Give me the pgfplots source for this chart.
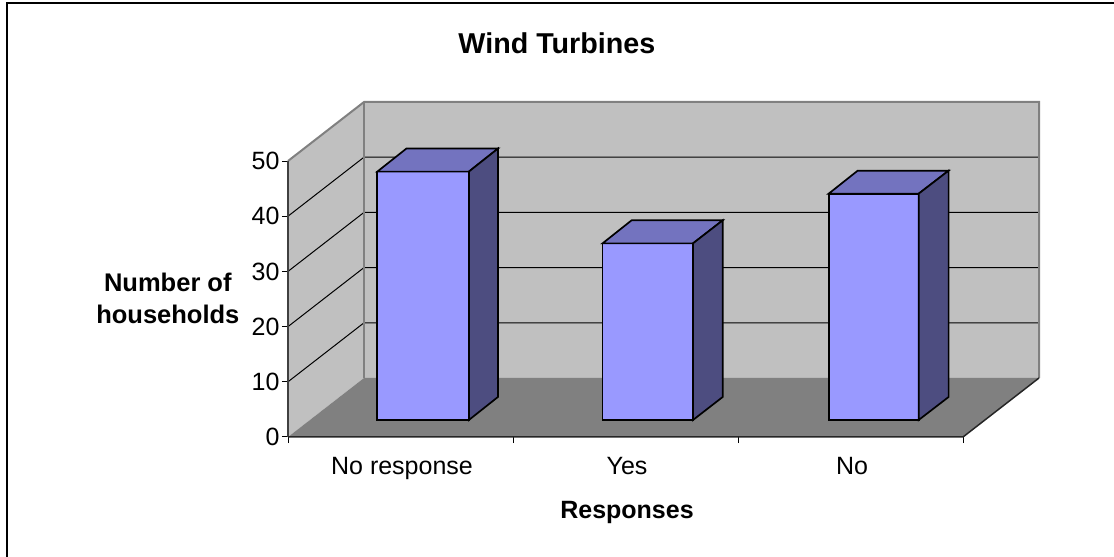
\documentclass[border=0pt]{standalone}
\usepackage{pgfplots}
\pgfplotsset{compat=1.18}
\usepackage{fontspec}
\setmainfont{Liberation Sans}
\definecolor{wall}{HTML}{C0C0C0}
\definecolor{floorc}{HTML}{808080}
\definecolor{barfront}{HTML}{9999FF}
\definecolor{bartop}{HTML}{7373BF}
\definecolor{barside}{HTML}{4D4D80}
\newcommand{\lab}{\fontsize{25}{32}\selectfont}
\begin{document}
\begin{tikzpicture}[x=1pt,y=1pt]
\path[use as bounding box] (0,0) rectangle (1114,557);
\draw[black,line width=2pt] (7,0) -- (7,554) -- (1114,554);
\begin{axis}[
    at={(288pt,120pt)}, anchor=south west,
    scale only axis, width=751pt, height=335pt,
    xmin=0, xmax=3.3378, ymin=0, ymax=60.69,
    axis lines=left, axis line style={draw=none, -},
    xtick={0,1,2,3}, xticklabels={},
    extra x ticks={0.5,1.5,2.5},
    extra x tick labels={No response,Yes,No},
    extra x tick style={major tick length=0pt},
    ytick={0,10,20,30,40,50},
    tick align=outside, major tick length=6pt,
    tick style={black, line width=1pt},
    /pgf/number format/assume math mode=true,
    tick label style={font=\lab},
    xticklabel style={yshift=-17pt, xshift=1.5pt},
    yticklabel style={xshift=1pt},
    clip=false,
    title={\bfseries Wind Turbines},
    title style={font=\fontsize{28.7}{34}\selectfont, at={(axis description cs:0.358,1.158)}, anchor=center},
    xlabel={\bfseries Responses},
    xlabel style={font=\lab, at={(axis description cs:0.4514,-0.224)}, anchor=center},
    ylabel={\bfseries Number of\\\bfseries households},
    ylabel style={font=\fontsize{25.5}{32}\selectfont, rotate=-90, align=center, at={(axis description cs:-0.16,0.415)}, anchor=center},
    every axis plot/.append style={no markers, forget plot, line join=miter},
]
% walls and floor
\addplot[fill=wall, draw=none] coordinates {(0,0) (0.3378,10.69) (0.3378,60.69) (0,50)} -- cycle;
\addplot[fill=wall, draw=none] coordinates {(0.3378,10.69) (3.3378,10.69) (3.3378,60.69) (0.3378,60.69)} -- cycle;
\addplot[fill=floorc, draw=none] coordinates {(0,0) (3,0) (3.3378,10.69) (0.3378,10.69)} -- cycle;
% grid on back wall and left wall
\addplot[black, line width=1pt] coordinates {(0,10) (0.3378,20.69) (3.3378,20.69)};
\addplot[black, line width=1pt] coordinates {(0,20) (0.3378,30.69) (3.3378,30.69)};
\addplot[black, line width=1pt] coordinates {(0,30) (0.3378,40.69) (3.3378,40.69)};
\addplot[black, line width=1pt] coordinates {(0,40) (0.3378,50.69) (3.3378,50.69)};
% wall edges
\addplot[floorc, line width=2pt] coordinates {(0,50) (0.3378,60.69) (3.3378,60.69) (3.3378,10.69)};
\addplot[floorc, line width=2pt] coordinates {(0.3378,10.69) (0.3378,60.69)};
% axis edges
\addplot[black!75, line width=1.5pt] coordinates {(0,50) (0,0)};
\addplot[black!85, line width=1.5pt] coordinates {(0,0) (3,0) (3.3378,10.69)};
% bars: front, top, side; base raised 3.08 by the depth offset
\addplot[fill=barfront, draw=black, line width=1.7pt] coordinates {(0.397,3.08) (0.804,3.08) (0.804,48.08) (0.397,48.08)} -- cycle;
\addplot[fill=bartop, draw=black, line width=1.7pt] coordinates {(0.397,48.08) (0.804,48.08) (0.933,52.25) (0.526,52.25)} -- cycle;
\addplot[fill=barside, draw=black, line width=1.7pt] coordinates {(0.804,3.08) (0.933,7.25) (0.933,52.25) (0.804,48.08)} -- cycle;
\addplot[fill=barfront, draw=black, line width=1.7pt] coordinates {(1.398,3.08) (1.8,3.08) (1.8,35.08) (1.398,35.08)} -- cycle;
\addplot[fill=bartop, draw=black, line width=1.7pt] coordinates {(1.398,35.08) (1.8,35.08) (1.932,39.25) (1.527,39.25)} -- cycle;
\addplot[fill=barside, draw=black, line width=1.7pt] coordinates {(1.8,3.08) (1.932,7.25) (1.932,39.25) (1.8,35.08)} -- cycle;
\addplot[fill=barfront, draw=black, line width=1.7pt] coordinates {(2.403,3.08) (2.803,3.08) (2.803,44.08) (2.403,44.08)} -- cycle;
\addplot[fill=bartop, draw=black, line width=1.7pt] coordinates {(2.403,44.08) (2.803,44.08) (2.936,48.25) (2.532,48.25)} -- cycle;
\addplot[fill=barside, draw=black, line width=1.7pt] coordinates {(2.803,3.08) (2.936,7.25) (2.936,48.25) (2.803,44.08)} -- cycle;
\end{axis}
\end{tikzpicture}
\end{document}
